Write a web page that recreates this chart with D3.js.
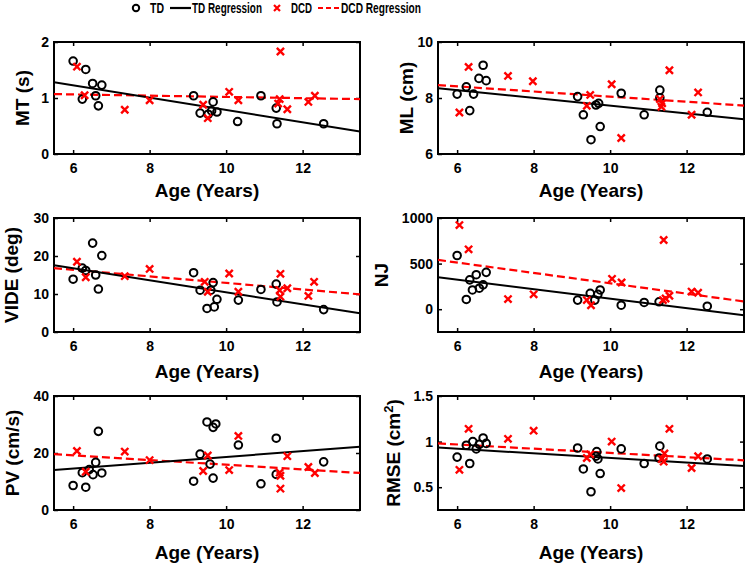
<!DOCTYPE html>
<html><head><meta charset="utf-8">
<script src="https://cdn.jsdelivr.net/npm/d3@7"></script>
<style>
body{margin:0;background:#fff}
svg{display:block}
text{font-family:"Liberation Sans",Arial,Helvetica,sans-serif;font-weight:bold;fill:#000}
</style>
</head><body>
<svg id="c" width="745" height="564"></svg>
<script>
// ---------- data ----------
const ageDomain = [5.5, 13.5];
const ageTicks = [6, 8, 10, 12];
const seriesNames = ["TD", "TD Regression", "DCD", "DCD Regression"];

const mtTD = [[6.0,1.66],[6.33,1.51],[6.24,0.98],[6.51,1.26],[6.59,1.04],[6.75,1.23],[6.66,0.86],[9.15,1.04],[9.32,0.73],[9.66,0.93],[9.53,0.71],[9.62,0.77],[9.76,0.75],[10.3,0.58],[10.91,1.04],[11.31,0.82],[11.33,0.54],[12.55,0.54]];
const mtDCD = [[6.1,1.56],[6.3,1.05],[7.35,0.79],[8.0,0.96],[9.4,0.88],[9.52,0.64],[10.08,1.11],[10.32,0.96],[11.42,1.83],[11.4,0.98],[11.36,0.9],[11.6,0.80],[12.15,0.93],[12.32,1.04]];
const mtFit = {td:[1.28,0.40], dcd:[1.07,0.98]};

const mlTD = [[6.0,8.14],[6.24,8.40],[6.33,7.55],[6.43,8.14],[6.57,8.70],[6.68,9.17],[6.76,8.62],[9.15,8.05],[9.3,7.40],[9.5,6.51],[9.63,7.75],[9.7,7.81],[9.74,6.98],[10.29,8.17],[10.89,7.40],[11.3,8.28],[11.3,8.01],[12.54,7.49]];
const mlDCD = [[6.06,7.48],[6.3,9.11],[7.33,8.79],[7.98,8.60],[9.39,7.72],[9.48,8.11],[10.04,8.49],[10.29,6.57],[11.3,7.96],[11.36,7.81],[11.34,7.69],[11.55,8.99],[12.13,7.40],[12.3,8.20]];
const mlFit = {td:[8.35,7.24], dcd:[8.46,7.73]};

const videTD = [[6.0,13.9],[6.24,16.8],[6.33,16.2],[6.51,23.4],[6.59,15.0],[6.66,11.3],[6.75,20.1],[9.15,15.6],[9.32,11.0],[9.5,6.2],[9.6,11.0],[9.66,13.0],[9.69,6.6],[9.76,8.6],[10.32,8.4],[10.91,11.2],[11.31,12.6],[11.33,7.9],[12.55,5.9]];
const videDCD = [[6.1,18.5],[6.33,14.4],[7.35,14.7],[8.0,16.6],[9.44,13.2],[9.52,10.6],[10.08,15.4],[10.32,10.6],[11.42,15.3],[11.4,11.0],[11.42,9.3],[11.6,11.5],[12.15,9.5],[12.3,13.2]];
const videFit = {td:[17.6,4.9], dcd:[16.8,9.9]};

const njTD = [[6.0,589],[6.24,107],[6.33,322],[6.4,211],[6.5,378],[6.58,230],[6.68,267],[6.76,404],[9.15,100],[9.48,174],[9.6,100],[9.68,163],[9.74,211],[10.29,44],[10.89,74],[11.28,81],[12.54,33]];
const njDCD = [[6.06,922],[6.3,656],[7.33,111],[8.0,163],[9.39,100],[9.5,44],[10.05,333],[10.3,293],[11.4,759],[11.38,100],[11.45,118],[11.55,148],[12.13,193],[12.3,181]];
const njFit = {td:[350,-67], dcd:[540,85]};

const pvTD = [[6.0,8.6],[6.24,13.1],[6.33,8.0],[6.42,14.2],[6.52,12.4],[6.59,16.7],[6.66,27.6],[6.75,13.0],[9.15,10.1],[9.32,19.6],[9.5,30.9],[9.58,16.1],[9.66,29.0],[9.73,30.2],[9.66,11.2],[10.32,22.8],[10.91,9.2],[11.31,25.2],[11.31,12.5],[12.55,16.9]];
const pvDCD = [[6.1,20.7],[6.33,13.4],[7.35,20.5],[8.0,17.5],[9.4,13.7],[9.52,19.1],[10.08,14.0],[10.32,26.0],[11.4,13.1],[11.42,12.0],[11.42,7.5],[11.6,18.9],[12.15,15.1],[12.32,13.0]];
const pvFit = {td:[14.0,22.2], dcd:[19.6,13.0]};

const rmseTD = [[6.0,0.83],[6.24,0.96],[6.33,0.76],[6.41,1.0],[6.5,0.92],[6.58,0.97],[6.68,1.04],[6.76,0.98],[9.15,0.93],[9.3,0.70],[9.5,0.45],[9.65,0.89],[9.68,0.81],[9.63,0.84],[9.74,0.65],[10.29,0.92],[10.89,0.76],[11.3,0.95],[11.28,0.82],[12.54,0.81]];
const rmseDCD = [[6.06,0.69],[6.3,1.14],[7.33,1.03],[8.0,1.12],[9.39,0.82],[9.48,0.86],[10.04,1.0],[10.29,0.49],[11.35,0.81],[11.4,0.78],[11.42,0.87],[11.55,1.14],[12.13,0.71],[12.3,0.84]];
const rmseFit = {td:[0.934,0.733], dcd:[0.98,0.795]};

const yLabels = ["MT (s)", "ML (cm)", "VIDE (deg)", "NJ", "PV (cm/s)", "RMSE (cm2)"];
const yDomains = [[0,2],[6,10],[0,30],[-250,1000],[0,40],[0.25,1.5]];
const yTicks = [[0,1,2],[6,8,10],[0,10,20,30],[0,500,1000],[0,20,40],[0.5,1,1.5]];
const xLabel = "Age (Years)";

const panelData = [
  {td:mtTD, dcd:mtDCD, fit:mtFit},
  {td:mlTD, dcd:mlDCD, fit:mlFit},
  {td:videTD, dcd:videDCD, fit:videFit},
  {td:njTD, dcd:njDCD, fit:njFit},
  {td:pvTD, dcd:pvDCD, fit:pvFit},
  {td:rmseTD, dcd:rmseDCD, fit:rmseFit}
];

// ---------- layout ----------
const RED = "#ff0000";
const colX = [[54,360],[438,744]];
const rowY = [[42,154],[218,332],[396,510]];
const yLabelX = [22,406,11,381,12,393];
const xLabelOff = [36,39,42];

const svg = d3.select("#c");

function xMark(sel, s, sw){
  sel.append("path")
    .attr("d", `M${-s},${-s}L${s},${s}M${-s},${s}L${s},${-s}`)
    .attr("stroke", RED).attr("stroke-width", sw).attr("fill","none");
}

panelData.forEach((pd, i) => {
  const col = i % 2, row = Math.floor(i / 2);
  const [x0, x1] = colX[col], [y0, y1] = rowY[row];
  const x = d3.scaleLinear().domain(ageDomain).range([x0, x1]);
  const y = d3.scaleLinear().domain(yDomains[i]).range([y1, y0]);
  const g = svg.append("g");

  const ax = [
    d3.axisBottom(x).tickValues(ageTicks).tickSize(-4).tickSizeOuter(0).tickPadding(9),
    d3.axisTop(x).tickValues(ageTicks).tickSize(-4).tickSizeOuter(0).tickFormat(""),
    d3.axisLeft(y).tickValues(yTicks[i]).tickSize(-4).tickSizeOuter(0).tickPadding(5).tickFormat(d3.format("~g")),
    d3.axisRight(y).tickValues(yTicks[i]).tickSize(-4).tickSizeOuter(0).tickFormat("")
  ];
  const tr = [`translate(0,${y1})`, `translate(0,${y0})`, `translate(${x0},0)`, `translate(${x1},0)`];
  ax.forEach((a, k) => {
    const ag = g.append("g").attr("transform", tr[k]).call(a);
    ag.select(".domain").remove();
    ag.selectAll(".tick line").attr("stroke","#000").attr("stroke-width",1.5);
    ag.selectAll(".tick text").attr("font-size",14).attr("font-weight","bold")
      .attr("font-family",'"Liberation Sans",Arial,sans-serif').attr("fill","#000");
  });
  g.append("rect").attr("x",x0).attr("y",y0).attr("width",x1-x0).attr("height",y1-y0)
    .attr("fill","none").attr("stroke","#000").attr("stroke-width",2);

  const line = d3.line().x(d => x(d[0])).y(d => y(d[1]));
  const clipId = "clip"+i;
  g.append("clipPath").attr("id",clipId).append("rect")
    .attr("x",x0).attr("y",y0).attr("width",x1-x0).attr("height",y1-y0);
  const lg = g.append("g").attr("clip-path",`url(#${clipId})`);
  lg.append("path").datum([[ageDomain[0],pd.fit.dcd[0]],[ageDomain[1],pd.fit.dcd[1]]])
    .attr("d", line).attr("stroke",RED).attr("stroke-width",2.2).attr("stroke-dasharray","8,4").attr("fill","none");
  lg.append("path").datum([[ageDomain[0],pd.fit.td[0]],[ageDomain[1],pd.fit.td[1]]])
    .attr("d", line).attr("stroke","#000").attr("stroke-width",2).attr("fill","none");

  g.append("g").selectAll("circle").data(pd.td).join("circle")
    .attr("cx", d => x(d[0])).attr("cy", d => y(d[1])).attr("r", 3.8)
    .attr("fill","none").attr("stroke","#000").attr("stroke-width",2);
  g.append("g").selectAll("g").data(pd.dcd).join("g")
    .attr("transform", d => `translate(${x(d[0])},${y(d[1])})`)
    .each(function(){ xMark(d3.select(this), 3.6, 2.4); });

  g.append("text").attr("x",(x0+x1)/2).attr("y",y1+xLabelOff[row]).attr("dy","0.35em")
    .attr("text-anchor","middle").attr("font-size",19).text(xLabel);
  const yl = g.append("text")
    .attr("transform",`translate(${yLabelX[i]},${(y0+y1)/2}) rotate(-90)`)
    .attr("dy","0.35em").attr("text-anchor","middle").attr("font-size",19);
  const lab = yLabels[i];
  if (lab.endsWith("2)")) {
    yl.append("tspan").text(lab.slice(0,-2));
    yl.append("tspan").attr("font-size",13).attr("dy","-0.55em").text("2");
    yl.append("tspan").attr("dy","0.4em").text(")");
  } else yl.text(lab);
});

// ---------- legend ----------
const leg = svg.append("g").attr("transform","translate(0,8)");
leg.append("circle").attr("cx",136).attr("cy",0).attr("r",3.2).attr("fill","none").attr("stroke","#000").attr("stroke-width",2);
leg.append("line").attr("x1",170).attr("x2",191).attr("y1",0).attr("y2",0).attr("stroke","#000").attr("stroke-width",2.2);
const xm = leg.append("g").attr("transform","translate(277,0)"); xMark(xm, 3, 2.2);
leg.append("line").attr("x1",318).attr("x2",340).attr("y1",0).attr("y2",0).attr("stroke",RED).attr("stroke-width",2.2).attr("stroke-dasharray","5,3");
const legText = [[150,14],[192,70],[291,21],[341,80]];
seriesNames.forEach((s, k) => {
  const tg = leg.append("g");
  const t = tg.append("text").attr("x",0).attr("y",0).attr("dy","0.36em")
    .attr("font-size",15).attr("font-weight","bold").text(s);
  const w = t.node().getComputedTextLength();
  tg.attr("transform", `translate(${legText[k][0]},0) scale(${legText[k][1]/w},1)`);
});
</script>
</body></html>
